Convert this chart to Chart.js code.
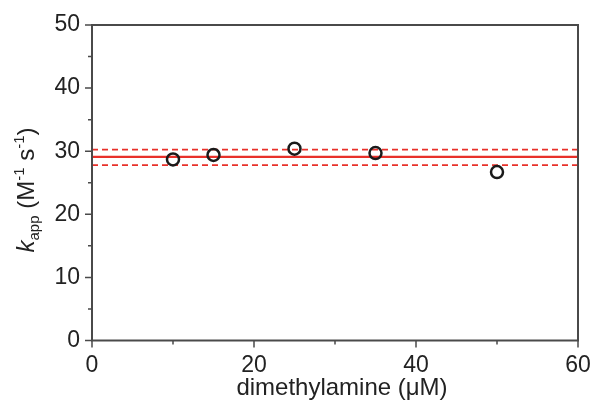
<!DOCTYPE html>
<html>
<head>
<meta charset="utf-8">
<script src="https://cdn.jsdelivr.net/npm/chart.js@4/dist/chart.umd.min.js"></script>
<style>
  html, body { margin: 0; padding: 0; background: #fff; }
  #wrap { width: 594px; height: 401px; }
</style>
</head>
<body>
<div id="wrap"><canvas id="myChart" width="594" height="401"></canvas></div>
<script>
// data
const concentrations = [10, 15, 25, 35, 50];     // dimethylamine (uM)
const kApp = [28.7, 29.4, 30.4, 29.7, 26.7];     // M-1 s-1
const fitRangeX = [0, 60];
const meanLevel = [29.1, 29.1];
const upperLevel = [30.25, 30.25];
const lowerLevel = [27.8, 27.8];

const xTicks = [0, 20, 40, 60];
const yTicks = [0, 10, 20, 30, 40, 50];

const fontFamily = 'Arial, "Liberation Sans", Helvetica, sans-serif';
const axisColor = '#4a4a4a';
const red = '#e8302a';

const toXY = (xs, ys) => xs.map((x, i) => ({ x: x, y: ys[i] }));

// frame, tick marks and axis titles
const framePlugin = {
    id: 'frame',
    afterDraw(chart) {
        const ctx = chart.ctx;
        const area = chart.chartArea;
        const xs = chart.scales.x;
        const ys = chart.scales.y;
        ctx.save();
        ctx.strokeStyle = axisColor;
        ctx.lineWidth = 2;
        ctx.strokeRect(area.left, area.top, area.right - area.left, area.bottom - area.top);

        ctx.lineWidth = 1.5;
        ctx.beginPath();
        for (let v = 0; v <= 50; v += 5) {
            const py = ys.getPixelForValue(v);
            const len = yTicks.includes(v) ? 7 : 4;
            ctx.moveTo(area.left, py);
            ctx.lineTo(area.left - len, py);
        }
        for (let v = 0; v <= 60; v += 10) {
            const px = xs.getPixelForValue(v);
            const len = xTicks.includes(v) ? 7 : 4;
            ctx.moveTo(px, area.bottom);
            ctx.lineTo(px, area.bottom + len);
        }
        ctx.stroke();

        // x title
        ctx.fillStyle = '#222';
        ctx.font = '24px ' + fontFamily;
        ctx.textAlign = 'center';
        ctx.textBaseline = 'alphabetic';
        ctx.fillText('dimethylamine (\u03bcM)', 342, 395);

        // y title: k_app (M^-1 s^-1)
        const big = '24px ' + fontFamily;
        const small = '15px ' + fontFamily;
        const parts = [
            { t: 'k', f: 'italic ' + big, dy: 0 },
            { t: 'app', f: small, dy: 5 },
            { t: ' (M', f: big, dy: 0 },
            { t: '-1', f: small, dy: -10 },
            { t: ' s', f: big, dy: 0 },
            { t: '-1', f: small, dy: -10 },
            { t: ')', f: big, dy: 0 }
        ];
        let total = 0;
        parts.forEach(p => { ctx.font = p.f; p.w = ctx.measureText(p.t).width; total += p.w; });
        ctx.translate(34, 190);
        ctx.rotate(-Math.PI / 2);
        ctx.textAlign = 'left';
        let cx = -total / 2;
        parts.forEach(p => {
            ctx.font = p.f;
            ctx.fillText(p.t, cx, p.dy);
            cx += p.w;
        });
        ctx.restore();
    }
};

const ctx = document.getElementById('myChart');
new Chart(ctx, {
    type: 'scatter',
    data: {
        datasets: [{
            label: 'kapp',
            data: toXY(concentrations, kApp),
            pointRadius: 6,
            pointBorderWidth: 2.5,
            pointBorderColor: '#1a1a1a',
            pointBackgroundColor: 'rgba(0,0,0,0)',
            showLine: false
        }, {
            label: 'mean',
            data: toXY(fitRangeX, meanLevel),
            showLine: true,
            borderColor: red,
            borderWidth: 2.2,
            pointRadius: 0
        }, {
            label: 'upper',
            data: toXY(fitRangeX, upperLevel),
            showLine: true,
            borderColor: red,
            borderWidth: 1.8,
            borderDash: [6, 4],
            pointRadius: 0
        }, {
            label: 'lower',
            data: toXY(fitRangeX, lowerLevel),
            showLine: true,
            borderColor: red,
            borderWidth: 1.8,
            borderDash: [6, 4],
            pointRadius: 0
        }]
    },
    options: {
        responsive: false,
        animation: false,
        layout: { padding: { top: 25, right: 16, left: 0, bottom: 0 } },
        plugins: { legend: { display: false }, tooltip: { enabled: false } },
        scales: {
            x: {
                type: 'linear',
                min: 0,
                max: 60,
                afterFit: scale => {
                    scale.height = 60.5;
                    scale.paddingLeft = 0;
                    scale.paddingRight = 0;
                },
                afterBuildTicks: scale => { scale.ticks = xTicks.map(v => ({ value: v })); },
                grid: { display: false, drawTicks: false },
                border: { display: false },
                ticks: {
                    padding: 11,
                    color: '#222',
                    font: { family: fontFamily, size: 23 },
                    maxRotation: 0
                }
            },
            y: {
                type: 'linear',
                min: 0,
                max: 50,
                afterFit: scale => {
                    scale.width = 92;
                    scale.paddingTop = 0;
                    scale.paddingBottom = 0;
                },
                afterBuildTicks: scale => { scale.ticks = yTicks.map(v => ({ value: v })); },
                grid: { display: false, drawTicks: false },
                border: { display: false },
                ticks: {
                    padding: 12,
                    color: '#222',
                    font: { family: fontFamily, size: 23 }
                }
            }
        }
    },
    plugins: [framePlugin]
});
</script>
</body>
</html>
